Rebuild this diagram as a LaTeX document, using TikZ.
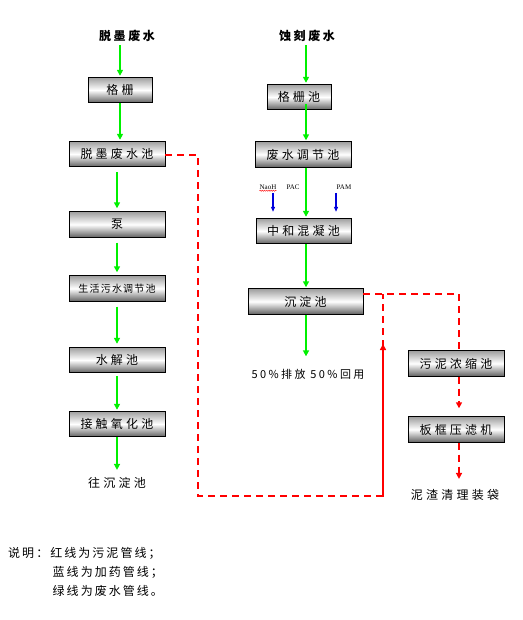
\documentclass[tikz,border=0pt]{standalone}
\usepackage{fontspec}
\setmainfont{Noto Sans CJK SC}
\newfontfamily\boxfont[LetterSpace=27]{Noto Sans CJK SC}
\newfontfamily\titlefont[LetterSpace=22]{Noto Sans CJK SC}
\newfontfamily\pctfont[LetterSpace=22]{Noto Sans CJK SC}
\newfontfamily\legendfont[LetterSpace=17]{Noto Sans CJK SC}
\newfontfamily\smallboxfont[LetterSpace=12]{Noto Sans CJK SC}
\newfontfamily\latinfont{Liberation Serif}
\usetikzlibrary{arrows.meta,calc,decorations.pathmorphing}
\definecolor{linegreen}{RGB}{0,240,0}
\definecolor{linered}{RGB}{255,0,0}
\definecolor{lineblue}{RGB}{0,0,220}
\tikzset{
  procbox/.style={draw=black, line width=0.9pt, top color=black!38, bottom color=black!62, middle color=white,
    minimum height=25.5pt, inner sep=0pt, font=\boxfont\fontsize{12}{14}\selectfont},
  greenarrow/.style={draw=linegreen, line width=1.8pt, -{Triangle[length=6pt,width=6pt]}},
  redline/.style={draw=linered, line width=1.8pt, dash pattern=on 7pt off 5pt},
  redarrow/.style={redline, -{Triangle[length=6pt,width=6pt]}},
  bluearrow/.style={draw=lineblue, line width=1.1pt, -{Triangle[length=5pt,width=4pt]}},
  titletext/.style={font=\titlefont\bfseries\fontsize{12}{14}\selectfont},
  plaintext/.style={font=\boxfont\fontsize{12}{14}\selectfont},
  pcttext/.style={font=\pctfont\fontsize{11}{13}\selectfont},
  chemtext/.style={font=\latinfont\fontsize{7}{8}\selectfont, inner sep=0pt},
  legendtext/.style={font=\legendfont\fontsize{12}{14}\selectfont, anchor=west, inner sep=0pt}
}
\begin{document}
\begin{tikzpicture}[x=1pt,y=-1pt]
\useasboundingbox (0,0) rectangle (522,620);
% left column
\node[titletext] (t1) at (127,36) {脱墨废水};
\coordinate (lx) at (120,36);
\node[procbox, minimum width=64pt] (gs1) at (120,90) {格栅};
\node[procbox, minimum width=96pt] (tm) at (117,154) {脱墨废水池};
\node[procbox, minimum width=96pt] (pump) at (117,224.5) {泵};
\node[procbox, minimum width=96pt, font=\smallboxfont\fontsize{10}{12}\selectfont] (sh) at (117,288.5) {生活污水调节池};
\node[procbox, minimum width=96pt] (sj) at (117,360) {水解池};
\node[procbox, minimum width=96pt] (jc) at (117,424) {接触氧化池};
\node[plaintext] (wcd) at (117,483) {往沉淀池};

\draw[greenarrow] ($(lx)+(0,9)$) -- ($(lx |- gs1.north)+(0,-1)$);
\draw[greenarrow] (lx |- gs1.south) -- ($(lx |- tm.north)+(0,-1)$);
\draw[greenarrow] ($(tm.south)+(0,5)$) -- ($(pump.north)+(0,-3)$);
\draw[greenarrow] ($(pump.south)+(0,5)$) -- ($(sh.north)+(0,-3)$);
\draw[greenarrow] ($(sh.south)+(0,5)$) -- ($(sj.north)+(0,-3)$);
\draw[greenarrow] ($(sj.south)+(0,3)$) -- ($(jc.north)+(0,-1)$);
\draw[greenarrow] (jc.south) -- ($(wcd.north)+(0,-4)$);

% right column
\node[titletext] (t2) at (307,36) {蚀刻废水};
\coordinate (rx) at (306,36);
\node[procbox, minimum width=64pt] (gsc) at (299,97) {格栅池};
\node[procbox, minimum width=96pt] (tz) at (303,154.5) {废水调节池};
\node[procbox, minimum width=95pt] (zh) at (303.5,231) {中和混凝池};
\node[procbox, minimum width=115pt] (cd) at (305.5,301.5) {沉淀池};
\node[pcttext] (pf) at (308,374) {50\%排放 50\%回用};
\node[procbox, minimum width=96pt] (wn) at (456,363.5) {污泥浓缩池};
\node[procbox, minimum width=96pt] (bk) at (456,429.5) {板框压滤机};
\node[plaintext] (nz) at (455,495) {泥渣清理装袋};

\draw[greenarrow] ($(rx)+(0,9)$) -- ($(rx |- gsc.north)+(0,-1)$);
\draw[greenarrow] ($(rx |- gsc.south)+(0,-6)$) -- ($(rx |- tz.north)+(0,-1)$);
\draw[greenarrow] (rx |- tz.south) -- ($(rx |- zh.north)+(0,-1)$);
\draw[greenarrow] (rx |- zh.south) -- ($(rx |- cd.north)+(0,-1)$);
\draw[greenarrow] (rx |- cd.south) -- ($(rx |- pf.north)+(0,-9)$);

% chemicals
\node[chemtext] (naoh) at (268,187) {NaoH};
\node[chemtext] (pac) at (293,187) {PAC};
\node[chemtext] (pam) at (344,187) {PAM};
\draw[linered, line width=0.4pt, decorate, decoration={snake, amplitude=0.6pt, segment length=2.2pt}]
  ($(naoh.south west)+(0,1.2)$) -- ($(naoh.south east)+(0,1.2)$);
\coordinate (ba) at (273,193);
\coordinate (bb) at (336,193);
\draw[bluearrow] (ba) -- ($(ba |- zh.north)+(0,-6)$);
\draw[bluearrow] (bb) -- ($(bb |- zh.north)+(0,-6)$);

% red sludge lines
\coordinate (ja) at (198,155);
\coordinate (jb) at (198,496);
\coordinate (jc2) at (383,496);
\coordinate (jd) at (383,294);
\coordinate (jm) at (383,344);
\coordinate (je) at (459,294);
\draw[redline] (tm.east |- ja) -- (ja) -- (jb) -- (jc2) -- (jd);
\draw[redarrow] (jc2) -- (jm);
\draw[redline] (cd.east |- jd) -- (je) -- (je |- wn.north);
\draw[redarrow] (je |- wn.south) -- ($(je |- bk.north)+(0,-8)$);
\draw[redarrow] (je |- bk.south) -- ($(je |- nz.north)+(0,-7)$);

% legend
\node[legendtext] (lg1) at (8,553) {说明：红线为污泥管线；};
\node[legendtext] (lg2) at (52.5,572) {蓝线为加药管线；};
\node[legendtext] (lg3) at (52.5,591) {绿线为废水管线。};
\end{tikzpicture}
\end{document}
